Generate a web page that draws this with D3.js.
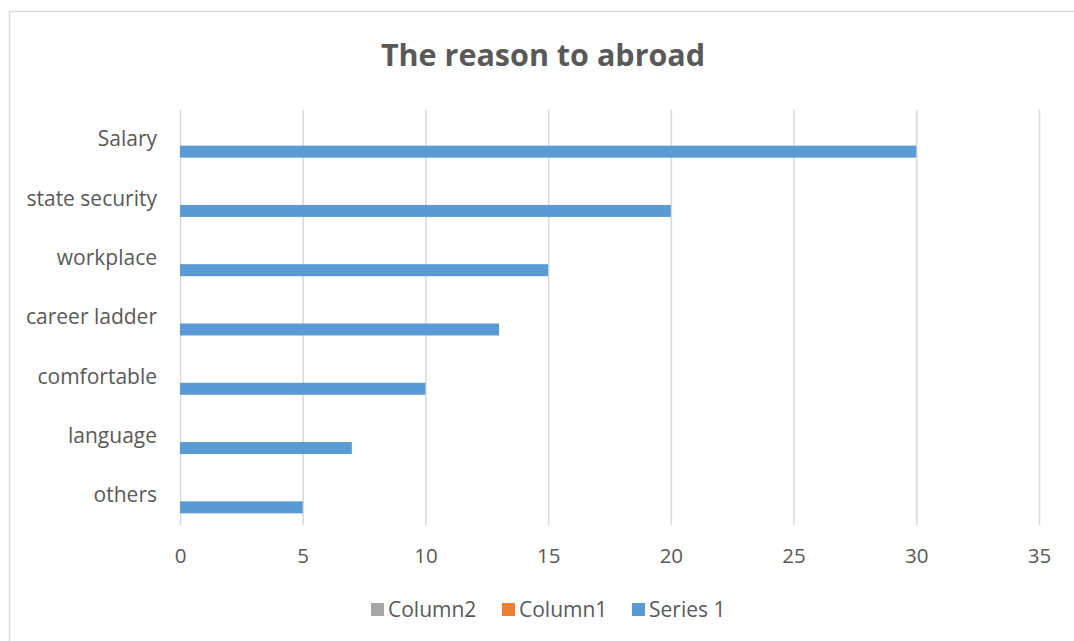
<!DOCTYPE html>
<html>
<head>
<meta charset="utf-8">
<script src="https://d3js.org/d3.v7.min.js"></script>
<style>
  body { margin: 0; background: #fff; }
  text { font-family: "Open Sans", sans-serif; fill: #595959; }
</style>
</head>
<body>
<div id="chart"></div>
<script>
// data
var categories = ["Salary", "state security", "workplace", "career ladder", "comfortable", "language", "others"];
var series1 = [30, 20, 15, 13, 10, 7, 5];
var column1 = [null, null, null, null, null, null, null];
var column2 = [null, null, null, null, null, null, null];
var seriesNames = ["Column2", "Column1", "Series 1"];
var seriesColors = ["#a5a5a5", "#ed7d31", "#5b9bd5"];
var xTicks = [0, 5, 10, 15, 20, 25, 30, 35];

var width = 1074, height = 641;
var margin = {top: 110, right: 35, bottom: 116, left: 180};

var svg = d3.select("#chart").append("svg")
    .attr("width", width)
    .attr("height", height);

// chart area border
svg.append("rect")
    .attr("x", 9.5).attr("y", 11.5)
    .attr("width", 1080).attr("height", 650)
    .attr("fill", "none")
    .attr("stroke", "#d9d9d9")
    .attr("stroke-width", 1.3);

svg.append("text")
    .attr("x", 543)
    .attr("y", 66)
    .attr("text-anchor", "middle")
    .style("font-size", "30.5px")
    .style("font-weight", "bold")
    .text("The reason to abroad");

var xScale = d3.scaleLinear().domain([0, 35]).range([margin.left, width - margin.right]);
var yScale = d3.scaleBand().domain(categories).range([margin.top, height - margin.bottom]);
// series within a category, Series 1 drawn lowest like Excel does
var subScale = d3.scaleBand().domain(seriesNames).range([0, yScale.bandwidth()]).paddingOuter(0.97);

// gridlines
var grid = svg.append("g")
    .attr("transform", "translate(0," + (height - margin.bottom) + ")")
    .call(d3.axisBottom(xScale).tickValues(xTicks).tickSize(-(height - margin.top - margin.bottom)).tickFormat(""));
grid.select(".domain").remove();
grid.selectAll("line").attr("stroke", "#d9d9d9").attr("stroke-width", 1.5);

// x tick labels
var xAxis = svg.append("g")
    .attr("transform", "translate(0," + (height - margin.bottom) + ")")
    .call(d3.axisBottom(xScale).tickValues(xTicks).tickSize(0).tickPadding(23));
xAxis.select(".domain").remove();
xAxis.selectAll("text").style("font-size", "20.5px").attr("fill", "#595959");

// category labels
var yAxis = svg.append("g")
    .attr("transform", "translate(157,0)")
    .call(d3.axisLeft(yScale).tickSize(0).tickPadding(0));
yAxis.select(".domain").remove();
yAxis.selectAll("text").style("font-size", "21px").attr("fill", "#595959");

var allSeries = [column2, column1, series1];
allSeries.forEach(function(vals, s) {
  svg.append("g").selectAll("rect")
    .data(vals.map(function(v, i) { return {cat: categories[i], value: v}; }).filter(function(d) { return d.value != null; }))
    .enter().append("rect")
    .attr("x", xScale(0))
    .attr("y", function(d) { return yScale(d.cat) + subScale(seriesNames[s]); })
    .attr("width", function(d) { return xScale(d.value) - xScale(0); })
    .attr("height", subScale.bandwidth())
    .attr("fill", seriesColors[s]);
});

// legend
var legendX = [371, 502, 632];
var legend = svg.append("g");
seriesNames.forEach(function(name, i) {
  legend.append("rect")
    .attr("x", legendX[i]).attr("y", 603)
    .attr("width", 13).attr("height", 13)
    .attr("fill", seriesColors[i]);
  legend.append("text")
    .attr("x", legendX[i] + 17).attr("y", 617)
    .style("font-size", "21px")
    .text(name);
});
</script>
</body>
</html>
